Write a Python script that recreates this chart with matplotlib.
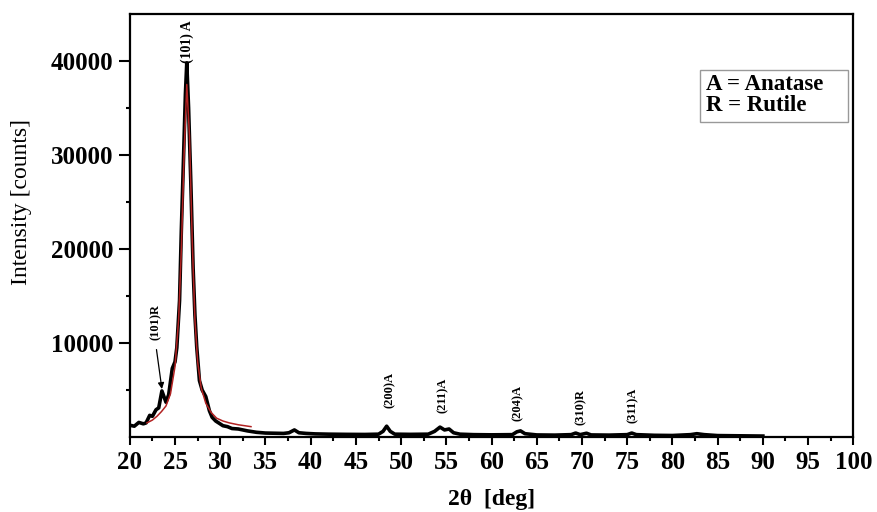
import matplotlib
matplotlib.use("Agg")
import matplotlib.pyplot as plt
from matplotlib.patches import Rectangle
from matplotlib.ticker import MultipleLocator, FixedLocator

plt.rcParams["font.family"] = ["Liberation Serif", "DejaVu Serif"]

two_theta = [20.0, 20.5, 21.0, 21.5, 21.8, 22.2, 22.5, 22.9, 23.2, 23.55, 24.0, 24.3,
             24.7, 25.0, 25.2, 25.5, 25.7, 25.95, 26.15, 26.3, 26.5, 26.75, 27.0,
             27.2, 27.4, 27.7, 28.0, 28.4, 28.8, 29.1, 29.5, 29.9, 30.3, 30.8, 31.3,
             32.0, 33.0, 34.0, 35.0, 36.0, 37.0, 37.6, 38.2, 38.7, 39.5, 40.5, 42.0,
             44.0, 46.0, 47.5, 48.0, 48.4, 48.8, 49.3, 51.0, 53.0, 53.7, 54.3, 54.8,
             55.3, 55.8, 56.5, 58.0, 60.0, 62.3, 62.8, 63.2, 63.7, 65.0, 67.0, 68.8,
             69.3, 69.8, 70.5, 71.0, 73.0, 75.0, 75.5, 76.0, 78.0, 80.0, 82.0, 82.7,
             83.5, 85.0, 88.0, 90.0]
counts = [1250, 1150, 1550, 1400, 1500, 2300, 2200, 2900, 3100, 4900, 3700, 4500,
          7300, 8000, 9500, 14500, 22000, 30000, 36500, 39800, 35000, 27000, 18000,
          13000, 9600, 6000, 5000, 4300, 2800, 2100, 1700, 1450, 1200, 1100, 900,
          850, 650, 500, 420, 400, 380, 450, 750, 450, 380, 330, 300,
          280, 270, 300, 600, 1150, 600, 300, 280, 300, 600, 1050, 750,
          850, 450, 300, 250, 230, 250, 550, 650, 350, 220, 200, 250,
          420, 250, 400, 220, 200, 250, 420, 250, 180, 160, 250, 350,
          250, 150, 120, 100]

# fitted profile of the (101) anatase peak
fit_theta = [21.9, 22.5, 23.0, 23.5, 24.0, 24.5, 25.0, 25.4, 25.7, 26.0, 26.3,
             26.6, 26.9, 27.2, 27.5, 27.9, 28.4, 29.0, 29.6, 30.3, 31.0, 32.0, 33.4]
fit_counts = [1500, 1800, 2200, 2700, 3300, 4600, 7500, 12500, 20000, 30000, 37500,
              32000, 21000, 12500, 8000, 5200, 3600, 2600, 2000, 1700, 1500, 1300, 1100]

# peak labels: text, x, y of text bottom
peak_labels = ["(101) A", "(200)A", "(211)A", "(204)A", "(310)R", "(311)A"]
peak_x = [26.35, 48.8, 54.6, 62.9, 69.9, 75.6]
peak_y = [39800, 3100, 2500, 1750, 1250, 1450]
peak_size = [10, 9, 9, 9, 9, 9]

rutile_label = "(101)R"
rutile_text_xy = (22.85, 10300)
rutile_arrow_from = (22.95, 9300)
rutile_arrow_to = (23.55, 5100)

fig = plt.figure(figsize=(8.77, 5.12), dpi=100)
ax = fig.add_axes([0.148, 0.1465, 0.825, 0.8262])

ax.plot(two_theta, counts, color="black", lw=2.6, solid_joinstyle="round", zorder=2)
ax.plot(fit_theta, fit_counts, color="#b22222", lw=1.1, zorder=3)

for txt, x, y, s in zip(peak_labels, peak_x, peak_y, peak_size):
  ax.text(x, y, txt, rotation=90, ha="center", va="bottom", fontsize=s,
          fontweight="bold")

ax.text(rutile_text_xy[0], rutile_text_xy[1], rutile_label, rotation=90,
        ha="center", va="bottom", fontsize=9, fontweight="bold")
ax.annotate("", xy=rutile_arrow_to, xytext=rutile_arrow_from,
            arrowprops=dict(arrowstyle="-|>", color="black", lw=0.9,
                            mutation_scale=9, shrinkA=0, shrinkB=0))

# phase key box
ax.add_patch(Rectangle((0.788, 0.745), 0.204, 0.123, transform=ax.transAxes,
                       fill=False, edgecolor="#999999", lw=1.0, zorder=4))
ax.text(0.797, 0.858, "A = Anatase\nR = Rutile", transform=ax.transAxes,
        ha="left", va="top", fontsize=16.5, fontweight="bold", linespacing=1.0)

ax.set_xlim(20, 100)
ax.set_ylim(0, 45000)
ax.xaxis.set_major_locator(MultipleLocator(5))
ax.xaxis.set_minor_locator(MultipleLocator(2.5))
ax.yaxis.set_major_locator(FixedLocator([10000, 20000, 30000, 40000]))
ax.yaxis.set_minor_locator(FixedLocator([5000, 15000, 25000, 35000]))

ax.tick_params(which="both", direction="out", width=1.5)
ax.tick_params(which="major", length=6)
ax.tick_params(which="minor", length=3)
ax.tick_params(axis="y", which="major", length=8)
ax.tick_params(axis="x", labelsize=18, pad=4)
ax.tick_params(axis="y", labelsize=18, pad=4)
for lab in ax.get_xticklabels() + ax.get_yticklabels():
  lab.set_fontweight("bold")

for sp in ax.spines.values():
  sp.set_linewidth(1.6)

fig.text(0.025, 0.605, "Intensity [counts]", rotation=90, ha="center", va="center",
         fontsize=17)
fig.text(0.561, 0.025, "2\u03b8  [deg]", ha="center", va="center",
         fontsize=17, fontweight="bold")

fig.savefig("out.png", dpi=100)
